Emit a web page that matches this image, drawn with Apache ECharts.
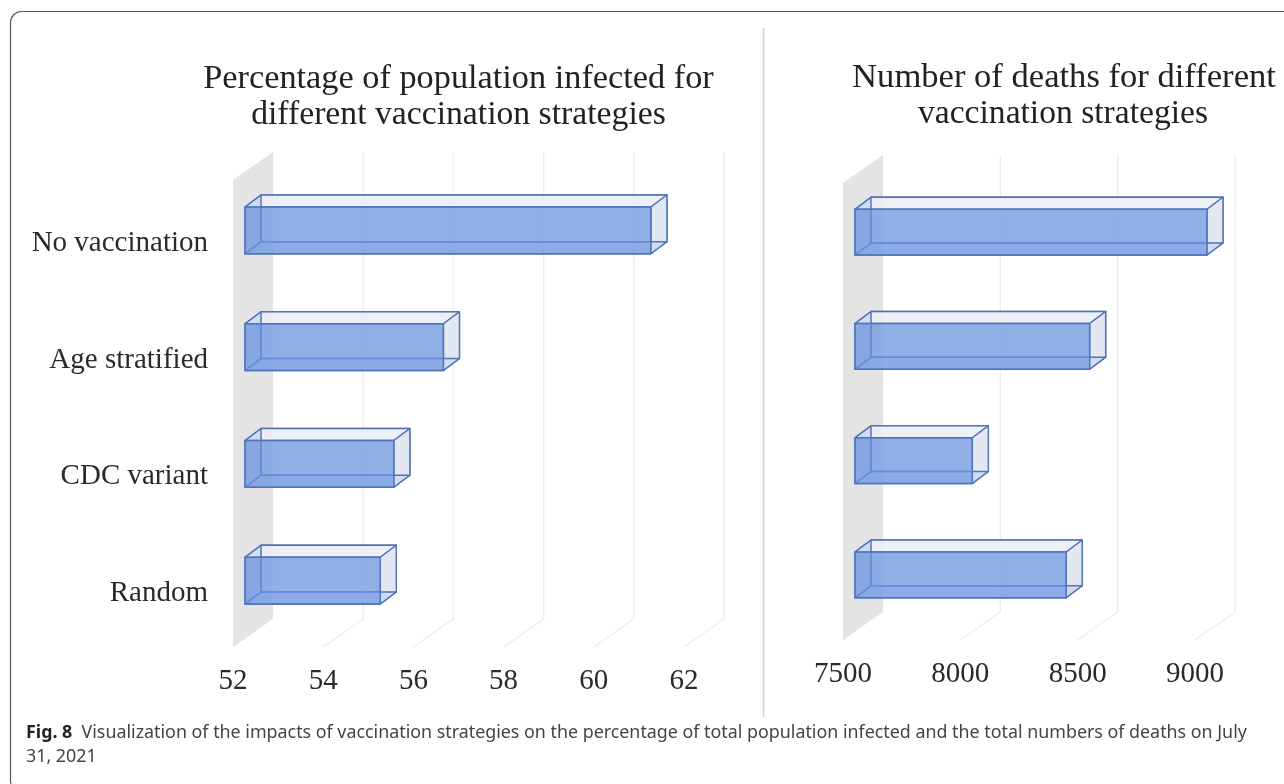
<!DOCTYPE html>
<html>
<head>
<meta charset="utf-8">
<style>html,body{margin:0;padding:0;background:#fff}#chart{width:1284px;height:784px}</style>
<script src="https://cdn.jsdelivr.net/npm/echarts@6/dist/echarts.min.js"></script>
</head>
<body>
<div id="chart"></div>
<script>
// Vaccination strategies, top row first
const strategies = ['No vaccination', 'Age stratified', 'CDC variant', 'Random'];
const infectedPercent = [61.0, 56.4, 55.3, 55.0];
const deathCounts = [9000, 8500, 8000, 8400];
const infectedTicks = [52, 54, 56, 58, 60, 62];
const deathTicks = [7500, 8000, 8500, 9000];

// Pseudo-3D projection used by the wall, floor and boxes
const WALL_DX = 40, WALL_DY = -28;
const BOX_INSET_X = 12, BOX_INSET_Y = -8;
const BOX_DX = 16, BOX_DY = -12;
const BAR_BAND = 0.4;

const SERIF = '"Liberation Serif", serif';
const SANS = '"Noto Sans", sans-serif';
const EDGE = '#4f74b8';

function poly(points, fill, stroke) {
  return {
    type: 'polygon',
    shape: { points },
    style: { fill, stroke: stroke || null, lineWidth: stroke ? 1.4 : 0, lineJoin: 'round' }
  };
}

function renderFrame(params, api) {
  const cs = params.coordSys;
  const tx = api.coord([api.value(0), 0])[0];
  const bottom = cs.y + cs.height, top = cs.y;
  const children = [];
  if (params.dataIndex === 0) {
    children.push(poly([
      [tx, top], [tx + WALL_DX, top + WALL_DY],
      [tx + WALL_DX, bottom + WALL_DY], [tx, bottom]
    ], '#e4e4e4'));
  } else {
    children.push({
      type: 'polyline',
      shape: { points: [[tx, bottom], [tx + WALL_DX, bottom + WALL_DY], [tx + WALL_DX, top + WALL_DY]] },
      style: { fill: null, stroke: '#eeeeee', lineWidth: 1.4 }
    });
  }
  return { type: 'group', children };
}

function renderBox(axisMin) {
  return function (params, api) {
    const cat = api.value(1);
    const end = api.coord([api.value(0), cat]);
    const start = api.coord([axisMin, cat]);
    const h = api.size([0, 1])[1] * BAR_BAND;
    const x0 = start[0] + BOX_INSET_X, x1 = end[0] + BOX_INSET_X;
    const y0 = end[1] + BOX_INSET_Y - h / 2, y1 = y0 + h;
    const d = (p) => [p[0] + BOX_DX, p[1] + BOX_DY];
    const ftl = [x0, y0], ftr = [x1, y0], fbr = [x1, y1], fbl = [x0, y1];
    const btl = d(ftl), btr = d(ftr), bbr = d(fbr), bbl = d(fbl);
    return {
      type: 'group',
      children: [
        poly([btl, btr, bbr, bbl], 'rgba(225,232,242,0.55)', EDGE),
        poly([ftl, ftr, btr, btl], 'rgba(236,239,245,0.8)', EDGE),
        poly([ftr, btr, bbr, fbr], 'rgba(224,230,239,0.95)', EDGE),
        poly([fbl, fbr, bbr, bbl], 'rgba(190,208,238,0.5)', EDGE),
        poly([ftl, btl, bbl, fbl], 'rgba(170,195,238,0.4)', EDGE),
        poly([ftl, ftr, fbr, fbl], 'rgba(108,148,224,0.72)', EDGE)
      ]
    };
  };
}

const panels = [
  { grid: { left: 233, top: 180, width: 451, height: 467 }, ticks: infectedTicks, values: infectedPercent, interval: 2, showNames: true },
  { grid: { left: 843, top: 183, width: 352, height: 457 }, ticks: deathTicks, values: deathCounts, interval: 500, showNames: false }
];

const option = {
  backgroundColor: '#ffffff',
  animation: false,
  grid: panels.map((p) => ({ ...p.grid, containLabel: false })),
  xAxis: panels.map((p, i) => ({
    type: 'value',
    gridIndex: i,
    min: p.ticks[0],
    max: p.ticks[p.ticks.length - 1],
    interval: p.interval,
    axisLine: { show: false },
    axisTick: { show: false },
    splitLine: { show: false },
    axisLabel: {
      color: '#2a2a2a',
      fontFamily: SERIF,
      fontSize: 29,
      margin: 20,
      formatter: (v) => String(v)
    }
  })),
  yAxis: panels.map((p, i) => ({
    type: 'category',
    gridIndex: i,
    inverse: true,
    data: strategies,
    axisLine: { show: false },
    axisTick: { show: false },
    splitLine: { show: false },
    axisLabel: {
      show: p.showNames,
      color: '#2a2a2a',
      fontFamily: SERIF,
      fontSize: 29,
      margin: 25,
      verticalAlign: 'top',
      lineHeight: 10
    }
  })),
  series: panels.flatMap((p, i) => [
    {
      type: 'custom',
      name: 'frame' + i,
      xAxisIndex: i,
      yAxisIndex: i,
      renderItem: renderFrame,
      data: p.ticks.map((t) => [t, 0]),
      encode: { x: 0, y: 1 },
      silent: true
    },
    {
      type: 'custom',
      name: 'boxes' + i,
      xAxisIndex: i,
      yAxisIndex: i,
      renderItem: renderBox(p.ticks[0]),
      data: p.values.map((v, k) => [v, k]),
      encode: { x: 0, y: 1 },
      silent: true
    }
  ]),
  graphic: [
    {
      type: 'rect',
      shape: { x: 10.5, y: 11.5, width: 1400, height: 780, r: 11 },
      style: { fill: 'transparent', stroke: '#555555', lineWidth: 1.2 },
      silent: true
    },
    {
      type: 'line',
      shape: { x1: 763.5, y1: 28, x2: 763.5, y2: 717 },
      style: { stroke: '#c3d3ea', lineWidth: 1.6 }
    },
    { type: 'text', x: 458.5, y: 79, style: { text: 'Percentage of population infected for', font: '34.3px ' + SERIF, fill: '#222', align: 'center', verticalAlign: 'middle' } },
    { type: 'text', x: 458.5, y: 115, style: { text: 'different vaccination strategies', font: '33.7px ' + SERIF, fill: '#222', align: 'center', verticalAlign: 'middle' } },
    { type: 'text', x: 1064, y: 78, style: { text: 'Number of deaths for different', font: '34.6px ' + SERIF, fill: '#222', align: 'center', verticalAlign: 'middle' } },
    { type: 'text', x: 1063, y: 114, style: { text: 'vaccination strategies', font: '33.6px ' + SERIF, fill: '#222', align: 'center', verticalAlign: 'middle' } },
    {
      type: 'text', x: 26, y: 733,
      style: {
        text: '{b|Fig. 8}  Visualization of the impacts of vaccination strategies on the percentage of total population infected and the total numbers of deaths on July',
        font: '17.85px ' + SANS,
        fill: '#444444',
        verticalAlign: 'middle',
        rich: { b: { font: 'bold 17.85px ' + SANS, fill: '#222' } }
      }
    },
    { type: 'text', x: 26, y: 757, style: { text: '31, 2021', font: '17.85px ' + SANS, fill: '#444444', verticalAlign: 'middle' } }
  ]
};

echarts.init(document.getElementById('chart'), null, { renderer: 'canvas' }).setOption(option);
</script>
</body>
</html>
